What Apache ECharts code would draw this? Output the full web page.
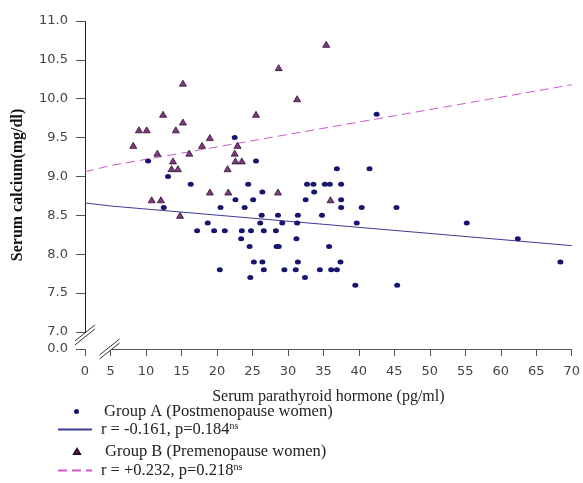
<!DOCTYPE html>
<html>
<head>
<meta charset="utf-8">
<script src="https://cdn.jsdelivr.net/npm/echarts@6/dist/echarts.min.js"></script>
<style>
html, body { margin: 0; padding: 0; background: #fff; }
#chart { width: 583px; height: 483px; }
</style>
</head>
<body>
<div id="chart"></div>
<script>
// Group A: postmenopause women [PTH, calcium]
const groupA = [
    [10.3, 9.2], [12.5, 8.6], [13.1, 9.0], [16.3, 8.9], [17.2, 8.3], [18.7, 8.4],
    [19.6, 8.3], [20.4, 7.8], [20.5, 8.6], [21.1, 8.3], [22.5, 9.5], [22.6, 8.7],
    [23.4, 8.2], [23.5, 8.3], [23.9, 8.6], [24.4, 8.9], [24.6, 8.1], [24.7, 7.7],
    [24.8, 8.3], [25.1, 8.7], [25.2, 7.9], [25.5, 9.2], [26.1, 8.4], [26.3, 8.5],
    [26.4, 8.8], [26.4, 7.9], [26.6, 8.3], [26.6, 7.8], [28.3, 8.3], [28.4, 8.1],
    [28.7, 8.1], [28.6, 8.5], [29.2, 8.4], [29.5, 7.8], [31.1, 7.8], [31.2, 8.2],
    [31.3, 8.4], [31.4, 8.5], [31.4, 7.9], [32.4, 7.7], [32.5, 8.7], [32.7, 8.9],
    [33.6, 8.9], [33.7, 8.8], [34.5, 7.8], [34.8, 8.5], [35.2, 8.9], [35.8, 8.1],
    [35.9, 8.9], [36.1, 7.8], [36.9, 9.1], [36.9, 7.8], [37.4, 7.9], [37.5, 8.9],
    [37.5, 8.7], [37.5, 8.6], [39.5, 7.6], [39.7, 8.4], [40.4, 8.6], [41.5, 9.1],
    [42.5, 9.8], [45.3, 8.6], [45.4, 7.6], [55.2, 8.4], [62.4, 8.2], [68.4, 7.9]
];
// Group B: premenopause women
const groupB = [
    [8.2, 9.4], [9.0, 9.6], [10.1, 9.6], [10.8, 8.7], [11.6, 9.3], [12.1, 8.7],
    [12.4, 9.8], [13.6, 9.1], [13.8, 9.2], [14.2, 9.6], [14.5, 9.1], [14.8, 8.5],
    [15.2, 10.2], [15.2, 9.7], [16.1, 9.3], [17.9, 9.4], [19.0, 9.5], [19.0, 8.8],
    [21.5, 9.1], [21.6, 8.8], [22.5, 9.3], [22.6, 9.2], [22.9, 9.4], [23.5, 9.2],
    [25.5, 9.8], [28.6, 8.8], [28.7, 10.4], [31.3, 10.0], [35.4, 10.7], [36.0, 8.7]
];
// regression lines
const fitA = [[0, 8.66], [5, 8.62], [70, 8.11]];
const fitB = [[0, 9.06], [5, 9.14], [70, 10.18]];

const nameA = 'Group A (Postmenopause women)';
const nameFitA = 'r = -0.161, p=0.184';
const nameB = 'Group B (Premenopause women)';
const nameFitB = 'r = +0.232, p=0.218';

const serif = '"Liberation Serif", "Times New Roman", serif';
const sans = '"DejaVu Sans", Verdana, sans-serif';

let chart = echarts.init(document.getElementById('chart'));

function legendFor(name, top, left, w, h, padLeft, isLine) {
    return {
        data: [name],
        orient: 'vertical',
        top: top,
        left: left,
        padding: 0,
        itemWidth: w,
        itemHeight: h,
        selectedMode: false,
        itemStyle: isLine ? { opacity: 0 } : {},
        formatter: function (n) {
            return n.indexOf('r =') === 0 ? n + '{sup|ns}' : n;
        },
        textStyle: {
            fontFamily: serif,
            fontSize: 16.5,
            lineHeight: 16,
            color: '#222',
            padding: [0, 0, 0, padLeft],
            rich: {
                sup: { fontFamily: serif, fontSize: 10, lineHeight: 16, verticalAlign: 'top', color: '#222' }
            }
        }
    };
}

let option = {
    backgroundColor: '#fff',
    animation: false,
    grid: { left: 85, right: 8, top: 21, bottom: 134 },
    legend: [
        legendFor(nameA, 403, 74, 5, 5, 20, false),
        legendFor(nameFitA, 421, 57, 34, 10, 4, true),
        legendFor(nameB, 443, 73, 6, 5, 20, false),
        legendFor(nameFitB, 462, 57, 34, 10, 4, true)
    ],
    xAxis: {
        type: 'value',
        min: 0,
        max: 70,
        interval: 5,
        breaks: [{ start: 0, end: 5, gap: 3.6 }],
        breakArea: { show: false },
        name: 'Serum parathyroid hormone (pg/ml)',
        nameLocation: 'middle',
        nameGap: 40,
        nameTextStyle: { fontFamily: serif, fontSize: 16, color: '#222' },
        axisLine: { lineStyle: { color: '#555', width: 1 } },
        axisTick: { length: 7, lineStyle: { color: '#555' } },
        axisLabel: { fontFamily: sans, fontSize: 13, color: '#444', margin: 16 },
        splitLine: { show: false }
    },
    yAxis: {
        type: 'value',
        min: 0,
        max: 11,
        interval: 0.5,
        breaks: [{ start: 0, end: 7, gap: 0.22 }],
        breakArea: { show: false },
        name: 'Serum calcium(mg/dl)',
        nameLocation: 'middle',
        nameGap: 59,
        nameTextStyle: { fontFamily: serif, fontSize: 16, fontWeight: 'bold', color: '#111' },
        axisLine: { show: true, lineStyle: { color: '#222', width: 1 } },
        axisTick: { length: 9, lineStyle: { color: '#555' } },
        axisLabel: {
            fontFamily: sans, fontSize: 13, color: '#444', margin: 17,
            formatter: v => v.toFixed(1)
        },
        splitLine: { show: false }
    },
    series: [
        {
            name: nameA,
            type: 'scatter',
            symbol: 'circle',
            symbolSize: [6, 5],
            itemStyle: { color: '#16166e', opacity: 1 },
            data: groupA
        },
        {
            name: nameFitA,
            type: 'line',
            symbol: 'none',
            lineStyle: { color: '#3c3c96', width: 1 },
            itemStyle: { color: '#3c3c96' },
            data: fitA,
            z: 1
        },
        {
            name: nameB,
            type: 'scatter',
            symbol: 'triangle',
            symbolSize: [7, 6],
            itemStyle: { color: '#7e3c80', borderColor: '#2e0f30', borderWidth: 0.8, opacity: 1 },
            data: groupB
        },
        {
            name: nameFitB,
            type: 'line',
            symbol: 'none',
            lineStyle: { color: '#cc5acc', width: 1, type: [9, 5] },
            itemStyle: { color: '#cc5acc' },
            data: fitB,
            z: 1
        }
    ]
};

chart.setOption(option);

// "//" marks on the broken axes
function breakMark(cx, cy) {
    const s = { stroke: '#333', lineWidth: 1 };
    return [
        { type: 'polygon', shape: { points: [[cx - 10, cy + 6], [cx + 10, cy - 10], [cx + 10, cy - 6], [cx - 10, cy + 10]] }, style: { fill: '#fff' }, z: 100 },
        { type: 'line', shape: { x1: cx - 10, y1: cy + 6, x2: cx + 10, y2: cy - 10 }, style: s, z: 101 },
        { type: 'line', shape: { x1: cx - 10, y1: cy + 10, x2: cx + 10, y2: cy - 6 }, style: s, z: 101 }
    ];
}
const px0 = chart.convertToPixel({ xAxisIndex: 0 }, 0);
const px5 = chart.convertToPixel({ xAxisIndex: 0 }, 5);
const py0 = chart.convertToPixel({ yAxisIndex: 0 }, 0);
const py7 = chart.convertToPixel({ yAxisIndex: 0 }, 7);
chart.setOption({
    graphic: breakMark(px0, py7 + 3).concat(breakMark(px5 - 1, py0))
});

window.addEventListener('resize', function () {
    chart.resize();
});
</script>
</body>
</html>
